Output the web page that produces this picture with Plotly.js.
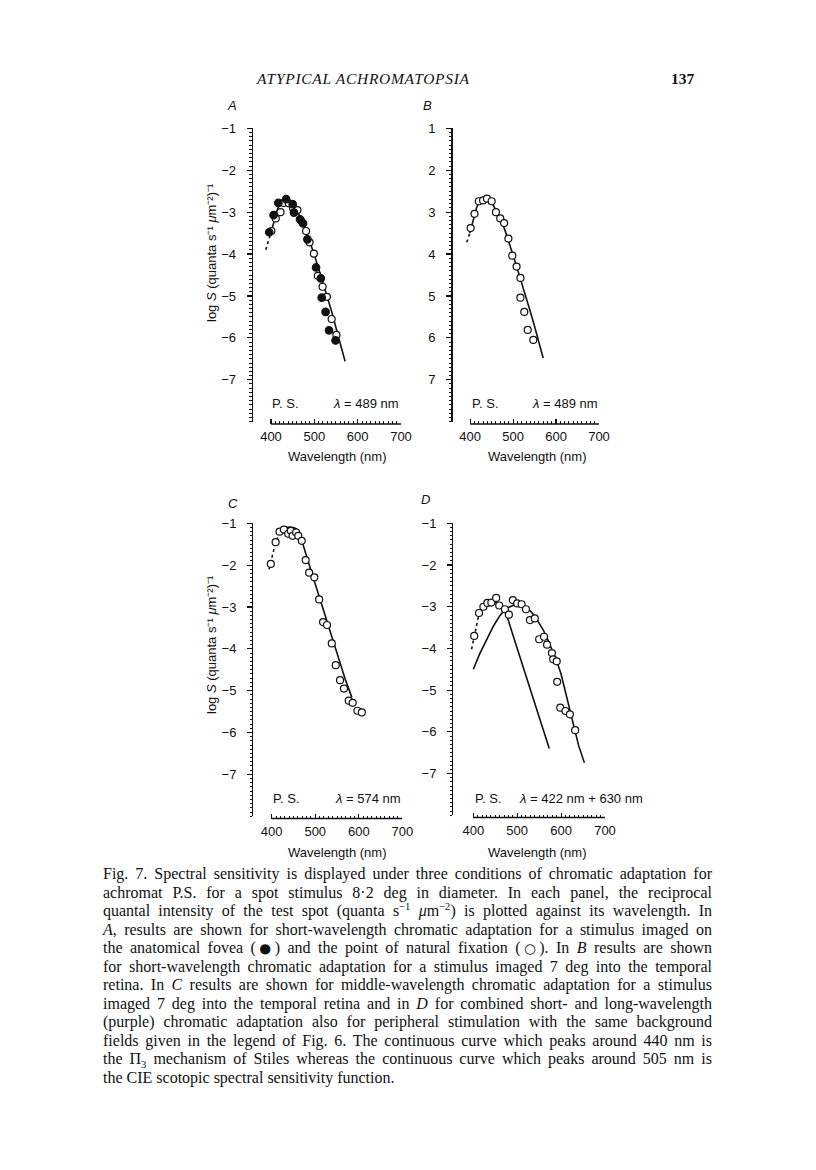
<!DOCTYPE html>
<html>
<head>
<meta charset="utf-8">
<script src="https://cdn.plot.ly/plotly-3.0.1.min.js"></script>
<style>
body{margin:0;background:#fff;}
#page{position:relative;width:816px;height:1170px;overflow:hidden;background:#fff;}
#plot{position:absolute;left:0;top:0;width:816px;height:1170px;}
.head{position:absolute;top:70px;font-family:"Liberation Serif",serif;font-size:15.5px;color:#111;}
#caption{position:absolute;left:103px;top:865px;width:609px;font-family:"Liberation Serif",serif;font-size:16px;line-height:18.5px;color:#111;}
#caption div{text-align:justify;text-align-last:justify;white-space:nowrap;}
#caption div.last{text-align-last:left;}
#caption sup,#caption sub{font-size:0.66em;line-height:0;}
#caption .mark{font-family:"DejaVu Sans",sans-serif;font-size:0.85em;}
</style>
</head>
<body>
<div id="page">
  <div id="plot"></div>
  <div class="head" style="left:257px;font-style:italic;letter-spacing:0.7px;">ATYPICAL ACHROMATOPSIA</div>
  <div class="head" style="left:671px;font-weight:bold;">137</div>
  <div id="caption">
    <div>Fig. 7. Spectral sensitivity is displayed under three conditions of chromatic adaptation for</div>
    <div>achromat P.S. for a spot stimulus 8·2 deg in diameter. In each panel, the reciprocal</div>
    <div>quantal intensity of the test spot (quanta s<sup>−1</sup> <i>μ</i>m<sup>−2</sup>) is plotted against its wavelength. In</div>
    <div><i>A</i>, results are shown for short-wavelength chromatic adaptation for a stimulus imaged on</div>
    <div>the anatomical fovea (<span class="mark">●</span>) and the point of natural fixation (<span class="mark">○</span>). In <i>B</i> results are shown</div>
    <div>for short-wavelength chromatic adaptation for a stimulus imaged 7 deg into the temporal</div>
    <div>retina. In <i>C</i> results are shown for middle-wavelength chromatic adaptation for a stimulus</div>
    <div>imaged 7 deg into the temporal retina and in <i>D</i> for combined short- and long-wavelength</div>
    <div>(purple) chromatic adaptation also for peripheral stimulation with the same background</div>
    <div>fields given in the legend of Fig. 6. The continuous curve which peaks around 440 nm is</div>
    <div>the Π<sub>3</sub> mechanism of Stiles whereas the continuous curve which peaks around 505 nm is</div>
    <div class="last">the CIE scotopic spectral sensitivity function.</div>
  </div>
</div>
<script>
////////// TICKS ///////////////
const xTickVals = [400, 500, 600, 700]
const xTickText = ['400', '500', '600', '700']
const xMinorVals = [410, 420, 430, 440, 450, 460, 470, 480, 490, 510, 520, 530, 540, 550, 560, 570, 580, 590, 610, 620, 630, 640, 650, 660, 670, 680, 690]
const yNegVals = [-7, -6, -5, -4, -3, -2, -1]
const yNegText = ['−7', '−6', '−5', '−4', '−3', '−2', '−1']
const yPosVals = [7, 6, 5, 4, 3, 2, 1]
const yPosText = ['7', '6', '5', '4', '3', '2', '1']

////////// PANEL A : fovea (filled) and natural fixation (open) ///////////////
const aFoveaNm = [396, 406, 417, 435, 450, 453, 467, 474, 484, 504, 515, 517, 526, 534, 549]
const aFoveaLog = [-3.48, -3.07, -2.78, -2.69, -2.81, -3.01, -3.17, -3.27, -3.65, -4.32, -4.58, -5.04, -5.38, -5.82, -6.06]
const aFixNm = [401, 411, 422, 429, 441, 451, 461, 469, 481, 489, 499, 508, 519, 529, 540, 551]
const aFixLog = [-3.45, -3.15, -3.00, -2.78, -2.79, -2.91, -2.95, -3.20, -3.45, -3.72, -3.99, -4.52, -4.78, -5.02, -5.55, -5.93]
const aDashNm = [388, 399]
const aDashLog = [-3.90, -3.52]
const aPi3Nm = [399, 405, 410, 415, 420, 425, 430, 435, 440, 445, 450, 455, 460, 465, 470, 480, 490, 500, 510, 520, 531, 540, 550, 560, 571]
const aPi3Log = [-3.52, -3.28, -3.08, -2.93, -2.82, -2.75, -2.71, -2.70, -2.72, -2.76, -2.82, -2.89, -2.97, -3.06, -3.16, -3.41, -3.70, -4.02, -4.35, -4.68, -5.02, -5.37, -5.76, -6.15, -6.56]

////////// PANEL B ///////////////
const bNm = [401, 410, 420, 430, 439, 450, 460, 470, 479, 489, 498, 508, 517, 517, 526, 534, 547]
const bLog = [3.38, 3.04, 2.74, 2.72, 2.68, 2.74, 3.00, 3.15, 3.26, 3.63, 4.04, 4.30, 4.57, 5.04, 5.38, 5.81, 6.05]
const bDashNm = [392, 399]
const bDashLog = [3.72, 3.50]
const bPi3Nm = [399, 405, 410, 415, 420, 425, 430, 435, 440, 445, 450, 455, 460, 465, 470, 480, 490, 500, 510, 520, 530, 540, 550, 560, 570]
const bPi3Log = [3.50, 3.25, 3.05, 2.89, 2.78, 2.71, 2.68, 2.67, 2.68, 2.72, 2.78, 2.86, 2.95, 3.05, 3.16, 3.40, 3.70, 4.03, 4.36, 4.68, 5.02, 5.37, 5.73, 6.10, 6.48]

////////// PANEL C ///////////////
const cNm = [398, 409, 418, 428, 438, 444, 448, 456, 461, 469, 478, 486, 498, 509, 518, 527, 538, 547, 557, 566, 577, 586, 597, 607]
const cLog = [-1.97, -1.45, -1.20, -1.15, -1.25, -1.18, -1.30, -1.22, -1.30, -1.42, -1.88, -2.18, -2.29, -2.82, -3.36, -3.43, -3.87, -4.39, -4.75, -4.95, -5.24, -5.29, -5.48, -5.52]
const cDashNm = [394, 406, 418]
const cDashLog = [-2.10, -1.58, -1.21]
const cCurveNm = [418, 423, 430, 440, 450, 458, 464, 469, 480, 490, 500, 510, 520, 530, 540, 550, 560, 570, 584]
const cCurveLog = [-1.21, -1.14, -1.10, -1.09, -1.10, -1.14, -1.24, -1.40, -1.78, -2.12, -2.45, -2.78, -3.11, -3.44, -3.77, -4.10, -4.43, -4.76, -5.16]

////////// PANEL D ///////////////
const dNm = [402, 413, 423, 432, 441, 452, 459, 472, 481, 490, 500, 510, 520, 529, 540, 550, 561, 568, 579, 582, 590, 591, 598, 610, 620, 632]
const dLog = [-3.70, -3.15, -3.00, -2.91, -2.90, -2.79, -2.97, -3.06, -3.19, -2.84, -2.92, -2.94, -3.06, -3.32, -3.28, -3.78, -3.72, -3.91, -4.11, -4.26, -4.31, -4.80, -5.42, -5.50, -5.58, -5.96]
const dDashNm = [396, 404, 412]
const dDashLog = [-4.02, -3.62, -3.22]
const dPi3Nm = [412, 420, 430, 440, 450, 460, 465, 470, 475, 480, 490, 500, 520, 540, 560, 573]
const dPi3Log = [-3.22, -3.02, -2.90, -2.86, -2.89, -2.95, -3.00, -3.07, -3.18, -3.33, -3.67, -4.00, -4.66, -5.31, -5.97, -6.40]
const dScotNm = [400, 415, 430, 445, 460, 470, 480, 490, 500, 510, 520, 530, 540, 550, 560, 570, 580, 590, 600, 610, 620, 630, 640, 653]
const dScotLog = [-4.50, -4.12, -3.80, -3.48, -3.22, -3.10, -3.02, -2.97, -2.96, -2.98, -3.03, -3.10, -3.22, -3.38, -3.57, -3.80, -4.03, -4.30, -4.62, -5.05, -5.50, -5.95, -6.33, -6.74]

const W = 816, H = 1170
const ink = '#111'
const sans = 'Liberation Sans, Arial, sans-serif'

function fx(p){ return p / W }
function fy(p){ return 1 - p / H }

//// panel boxes in page pixels ////
let panels = [
  {id: '',  l: 253,   r: 401,   t: 128.3, b: 421.7, xline: 424,   xr: [358.5, 700], yr: [-8, -1], yv: yNegVals, yt: yNegText},
  {id: '2', l: 452.5, r: 599,   t: 128.3, b: 421.7, xline: 424,   xr: [358.8, 700], yr: [8, 1],   yv: yPosVals, yt: yPosText},
  {id: '3', l: 253.3, r: 402.3, t: 523.3, b: 816.2, xline: 818.5, xr: [357.7, 700], yr: [-8, -1], yv: yNegVals, yt: yNegText},
  {id: '4', l: 453.3, r: 605,   t: 523.3, b: 815.3, xline: 817.5, xr: [354.4, 700], yr: [-8, -1], yv: yNegVals, yt: yNegText}
]

function curve(x, y, n, dashed){
  return {x: x, y: y, xaxis: 'x' + n, yaxis: 'y' + n, type: 'scatter', mode: 'lines',
    line: {color: ink, width: 1.6, dash: dashed ? '3px,3px' : 'solid'}, hoverinfo: 'skip'}
}
function dots(x, y, n, filled){
  return {x: x, y: y, xaxis: 'x' + n, yaxis: 'y' + n, type: 'scatter', mode: 'markers', cliponaxis: false,
    marker: {symbol: 'circle', size: filled ? 7.5 : 7, color: filled ? ink : '#fff', line: {color: ink, width: 1.2}}, hoverinfo: 'skip'}
}

let data = [
  curve(aDashNm, aDashLog, '', true), curve(aPi3Nm, aPi3Log, '', false),
  dots(aFixNm, aFixLog, '', false), dots(aFoveaNm, aFoveaLog, '', true),
  curve(bDashNm, bDashLog, '2', true), curve(bPi3Nm, bPi3Log, '2', false), dots(bNm, bLog, '2', false),
  curve(cDashNm, cDashLog, '3', true), curve(cCurveNm, cCurveLog, '3', false), dots(cNm, cLog, '3', false),
  curve(dDashNm, dDashLog, '4', true), curve(dPi3Nm, dPi3Log, '4', false), curve(dScotNm, dScotLog, '4', false),
  dots(dNm, dLog, '4', false)
]

let layout = {
  width: W, height: H, margin: {l: 0, r: 0, t: 0, b: 0},
  paper_bgcolor: 'rgba(0,0,0,0)', plot_bgcolor: 'rgba(0,0,0,0)',
  showlegend: false, font: {family: sans, size: 13, color: ink},
  shapes: [], annotations: []
}

panels.forEach(function(g){
  layout['xaxis' + g.id] = {
    domain: [fx(g.l), fx(g.r)], range: g.xr, anchor: 'free', position: fy(g.xline),
    showline: false, showgrid: false, zeroline: false, fixedrange: true,
    tickmode: 'array', tickvals: xTickVals, ticktext: xTickText,
    ticks: 'inside', ticklen: 5, tickwidth: 1.2, tickcolor: ink, ticklabelstandoff: 3,
    tickfont: {family: sans, size: 13, color: ink},
    minor: {tickmode: 'array', tickvals: xMinorVals, ticks: 'inside', ticklen: 3, tickwidth: 1, tickcolor: ink}
  }
  layout['yaxis' + g.id] = {
    domain: [fy(g.b), fy(g.t)], range: g.yr, anchor: 'x' + g.id,
    showline: true, linewidth: 1.3, linecolor: ink, showgrid: false, zeroline: false, fixedrange: true,
    tickmode: 'array', tickvals: g.yv, ticktext: g.yt,
    ticks: 'outside', ticklen: 5, tickwidth: 1.2, tickcolor: ink, ticklabelstandoff: 8,
    tickfont: {family: sans, size: 13, color: ink},
    minor: {dtick: 0.1, ticks: 'outside', ticklen: 2.5, tickwidth: 1, tickcolor: ink}
  }
  // x axis line only runs from the first to the last tick
  layout.shapes.push({type: 'line', xref: 'x' + g.id, yref: 'paper',
    x0: xTickVals[0], x1: xTickVals[xTickVals.length - 1], y0: fy(g.xline), y1: fy(g.xline),
    line: {color: ink, width: 1.3}})
})

//// texts ////
function note(text, x, y, opts){
  let a = {text: text, x: fx(x), y: fy(y), xref: 'paper', yref: 'paper', showarrow: false,
    xanchor: 'center', yanchor: 'middle', font: {family: sans, size: 13, color: ink}}
  return Object.assign(a, opts || {})
}
let ytitle = 'log <i>S</i> (quanta s⁻¹ <i>μ</i>m⁻²)⁻¹'
layout.annotations.push(
  note('<i>A</i>', 232, 105), note('<i>B</i>', 427, 105), note('<i>C</i>', 233, 503), note('<i>D</i>', 425, 499),
  note(ytitle, 211, 253, {textangle: -90}), note(ytitle, 211, 645, {textangle: -90}),
  note('Wavelength (nm)', 337, 457), note('Wavelength (nm)', 537, 457),
  note('Wavelength (nm)', 337, 852), note('Wavelength (nm)', 537, 852),
  note('P. S.', 270, 403, {xanchor: 'left'}), note('<i>λ</i> = 489 nm', 401, 403, {xanchor: 'right'}),
  note('P. S.', 470, 403, {xanchor: 'left'}), note('<i>λ</i> = 489 nm', 600, 403, {xanchor: 'right'}),
  note('P. S.', 271, 798, {xanchor: 'left'}), note('<i>λ</i> = 574 nm', 403, 798, {xanchor: 'right'}),
  note('P. S.', 473, 798, {xanchor: 'left'}), note('<i>λ</i> = 422 nm + 630 nm', 517, 798, {xanchor: 'left'})
)

let config = {staticPlot: true, displayModeBar: false}

Plotly.newPlot('plot', data, layout, config)
</script>
</body>
</html>
